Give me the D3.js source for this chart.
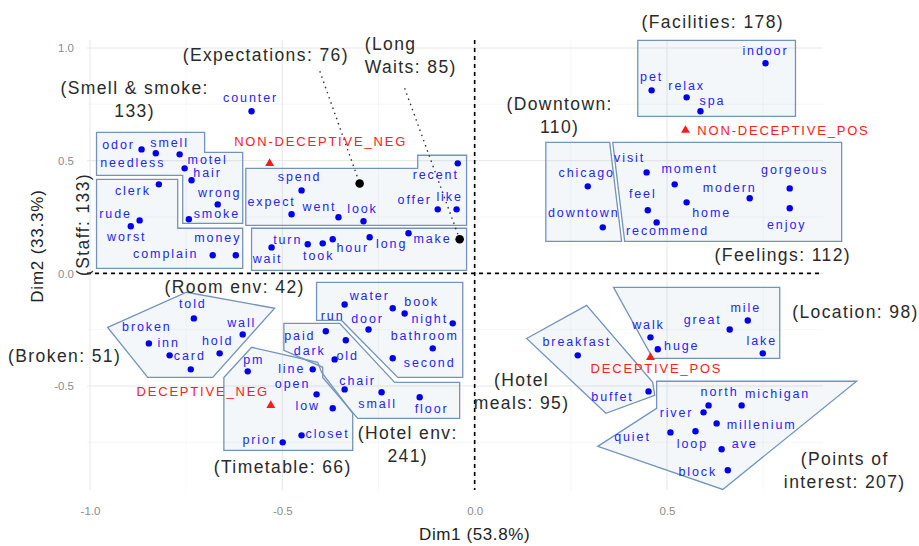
<!DOCTYPE html>
<html lang="en">
<head>
<meta charset="UTF-8">
<title>Word clusters - CA map</title>
<script src="https://d3js.org/d3.v7.min.js"></script>
<style>
  body { margin: 0; background: #fff; }
  svg { display: block; font-family: "Liberation Sans", Arial, sans-serif; }
</style>
</head>
<body>
<svg id="chart" width="919" height="546"></svg>
<script>
// word coordinates on the first two dimensions
const words = ["odor","needless","smell","motel","hair","wrong","smoke",
  "clerk","rude","worst","money","complain","counter",
  "spend","expect","went","look","recent","offer","like",
  "wait","turn","took","hour","long","make",
  "told","broken","inn","card","hold","wall",
  "pm","line","open","low","prior","closet",
  "run","water","book","door","night","bathroom","second","paid","dark","old","chair","small","floor",
  "chicago","downtown",
  "visit","moment","feel","recommend","home","modern","gorgeous","enjoy",
  "indoor","pet","relax","spa",
  "mile","great","walk","huge","lake",
  "breakfast","buffet",
  "north","michigan","river","millenium","quiet","loop","ave","block"];
const dim1 = [-0.866,-0.829,-0.767,-0.754,-0.736,-0.668,-0.743,
  -0.821,-0.871,-0.894,-0.621,-0.681,-0.580,
  -0.450,-0.476,-0.354,-0.289,-0.044,-0.096,-0.047,
  -0.528,-0.434,-0.395,-0.369,-0.273,-0.172,
  -0.730,-0.847,-0.793,-0.738,-0.663,-0.603,
  -0.590,-0.421,-0.411,-0.369,-0.499,-0.450,
  -0.338,-0.213,-0.182,-0.276,-0.057,-0.109,-0.213,-0.387,-0.335,-0.364,-0.338,-0.242,-0.143,
  0.294,0.333,
  0.447,0.520,0.450,0.473,0.551,0.715,0.819,0.819,
  0.756,0.460,0.551,0.587,
  0.710,0.663,0.457,0.476,0.749,
  0.268,0.452,
  0.608,0.694,0.595,0.629,0.509,0.574,0.642,0.658];
const dim2 = [0.550,0.533,0.528,0.466,0.413,0.306,0.240,
  0.395,0.235,0.209,0.080,0.080,0.719,
  0.368,0.262,0.249,0.231,0.488,0.284,0.284,
  0.115,0.129,0.133,0.151,0.160,0.178,
  -0.200,-0.311,-0.364,-0.426,-0.355,-0.271,
  -0.435,-0.426,-0.537,-0.599,-0.750,-0.719,
  -0.138,-0.155,-0.178,-0.249,-0.222,-0.333,-0.377,-0.257,-0.297,-0.382,-0.515,-0.528,-0.550,
  0.386,0.204,
  0.448,0.395,0.280,0.226,0.315,0.333,0.377,0.289,
  0.932,0.812,0.781,0.719,
  -0.209,-0.249,-0.284,-0.337,-0.355,
  -0.364,-0.524,
  -0.586,-0.586,-0.617,-0.666,-0.706,-0.701,-0.781,-0.874];

// review classes (red triangles)
const classes = ["NON-DECEPTIVE_NEG","NON-DECEPTIVE_POS","DECEPTIVE_NEG","DECEPTIVE_POS"];
const classDim1 = [-0.533, 0.548, -0.530, 0.457];
const classDim2 = [0.488, 0.635, -0.586, -0.373];

// clusters drawn as a single point (black)
const centroidNames = ["Expectations","Long Waits"];
const centroidDim1 = [-0.299, -0.039];
const centroidDim2 = [0.399, 0.151];

// cluster names, sizes and outlines
const clusterNames = ["Smell & smoke","Staff","Expectations","Long Waits","Room env","Broken",
  "Timetable","Hotel env","Downtown","Feelings","Facilities","Location","Hotel meals","Points of interest"];
const clusterSizes = [133,133,76,85,42,51,66,241,110,112,178,98,95,207];
const clusterHulls = [
  [[[-0.983,0.626],[-0.702,0.626],[-0.702,0.537],[-0.603,0.537],[-0.603,0.222],[-0.759,0.222],[-0.759,0.435],[-0.983,0.435]]],
  [[[-0.983,0.417],[-0.772,0.417],[-0.772,0.200],[-0.603,0.200],[-0.603,0.022],[-0.983,0.022]]],
  [[[-0.595,0.466],[-0.148,0.466],[-0.148,0.524],[-0.021,0.524],[-0.021,0.213],[-0.595,0.213]]],
  [[[-0.580,0.200],[-0.021,0.200],[-0.021,0.013],[-0.580,0.013]]],
  [[[-0.954,-0.240],[-0.749,-0.084],[-0.520,-0.155],[-0.681,-0.462],[-0.850,-0.462]]],
  [],
  [[[-0.652,-0.462],[-0.580,-0.328],[-0.408,-0.395],[-0.398,-0.439],[-0.317,-0.621],[-0.317,-0.786],[-0.652,-0.786]]],
  [[[-0.411,-0.040],[-0.031,-0.040],[-0.031,-0.462],[-0.200,-0.462],[-0.346,-0.209],[-0.411,-0.209]],
   [[-0.496,-0.222],[-0.351,-0.222],[-0.208,-0.484],[-0.039,-0.484],[-0.039,-0.644],[-0.304,-0.644],[-0.395,-0.462],[-0.395,-0.417],[-0.496,-0.342]]],
  [[[0.185,0.581],[0.351,0.581],[0.382,0.142],[0.185,0.142]]],
  [[[0.359,0.581],[0.954,0.581],[0.954,0.142],[0.390,0.142]]],
  [[[0.424,1.034],[0.834,1.034],[0.834,0.697],[0.424,0.697]]],
  [[[0.361,-0.062],[0.793,-0.062],[0.793,-0.377],[0.463,-0.377]]],
  [[[0.135,-0.289],[0.291,-0.142],[0.463,-0.484],[0.468,-0.541],[0.341,-0.621]]],
  [[[0.473,-0.479],[0.993,-0.479],[0.645,-0.959],[0.320,-0.768],[0.473,-0.599]]]
];

// ---- layout (pixel offsets, label placement) ----
const labelNudge = {
  odor:[-23,-5], needless:[-23,9], smell:[-10,-12], motel:[23,-9], hair:[16,-8], wrong:[2,-12], smoke:[28,-6],
  clerk:[-26,6], rude:[-24,-7], worst:[-4,10], money:[-18,-18], complain:[-47,-2], counter:[-1,-14],
  spend:[-2,-14], expect:[-20,-13], went:[-19,-11], look:[-1,-13], recent:[-22,11], offer:[-23,-10], like:[-7,-13],
  wait:[-4,11], turn:[-20,-5], took:[-4,12], hour:[20,8], long:[22,6], make:[24,5],
  told:[-1,-15], broken:[-2,-17], inn:[-1,-13], card:[-1,-14], hold:[-2,-13], wall:[-1,-12],
  pm:[6,-12], line:[-21,-1], open:[-24,-11], low:[-25,-3], prior:[-23,-3], closet:[26,-2],
  run:[-12,11], water:[-23,-13], book:[17,-12], door:[-1,-11], night:[-23,-5], bathroom:[-8,-13], second:[37,4],
  paid:[-26,4], dark:[-36,10], old:[13,-4], chair:[13,-9], small:[-4,11], floor:[12,11],
  chicago:[-1,-14], downtown:[-19,-15],
  visit:[-17,-15], moment:[15,-16], feel:[-5,-17], recommend:[11,8], home:[25,10], modern:[-20,-11], gorgeous:[5,-19], enjoy:[-3,16],
  indoor:[0,-13], pet:[0,-14], relax:[0,-12], spa:[12,-11],
  mile:[-2,-13], great:[-27,-10], walk:[-2,-13], huge:[24,-4], lake:[-1,-13],
  breakfast:[-1,-14], buffet:[-36,5],
  north:[11,-14], michigan:[36,-12], river:[-27,0], millenium:[45,1], quiet:[-38,4], loop:[-3,12], ave:[23,-6], block:[-30,1]
};
const classNudge = [[51,-22],[98,0],[-68,-14],[6,11]];
// cluster title placement: [x, y] in plot units, line breaks, anchor, rotation
const clusterTitle = {
  "Smell & smoke": {pos:[-0.884,0.772], lines:["(Smell & smoke:","133)"]},
  "Staff": {pos:[-1.019,0.217], lines:["(Staff: 133)"], rotate:-90},
  "Expectations": {pos:[-0.543,0.968], lines:["(Expectations: 76)"], leader:[54,16]},
  "Long Waits": {pos:[-0.286,0.968], lines:["(Long","Waits: 85)"], anchor:"start", leader:[40,33]},
  "Room env": {pos:[-0.624,-0.062], lines:["(Room env: 42)"]},
  "Broken": {pos:[-1.066,-0.368], lines:["(Broken: 51)"]},
  "Timetable": {pos:[-0.499,-0.857], lines:["(Timetable: 66)"]},
  "Hotel env": {pos:[-0.174,-0.759], lines:["(Hotel env:","241)"]},
  "Downtown": {pos:[0.221,0.701], lines:["(Downtown:","110)"]},
  "Feelings": {pos:[0.801,0.084], lines:["(Feelings: 112)"]},
  "Facilities": {pos:[0.619,1.114], lines:["(Facilities: 178)"]},
  "Location": {pos:[0.990,-0.173], lines:["(Location: 98)"]},
  "Hotel meals": {pos:[0.122,-0.524], lines:["(Hotel","meals: 95)"]},
  "Points of interest": {pos:[0.962,-0.874], lines:["(Points of","interest: 207)"]}
};

const xTicks = [-1.0, -0.5, 0.0, 0.5];
const yTicks = [-0.5, 0.0, 0.5, 1.0];
const xMinor = [-0.75, -0.25, 0.25, 0.75];
const yMinor = [-0.75, -0.25, 0.25, 0.75];

const svg = d3.select("#chart");
const panel = {left: 87, right: 823, top: 40, bottom: 490};

const x = d3.scaleLinear().domain([-1, 0.5]).range([90, 667]);
const y = d3.scaleLinear().domain([1, -0.5]).range([48, 386]);
const fmt = d => d3.format(".1f")(d).replace("\u2212", "-");

// grid
const grid = svg.append("g");
grid.selectAll(".vminor").data(xMinor).join("line")
  .attr("x1", d => x(d)).attr("x2", d => x(d))
  .attr("y1", panel.top).attr("y2", panel.bottom)
  .attr("stroke", "#f2f2f2").attr("stroke-width", 0.6);
grid.selectAll(".hminor").data(yMinor).join("line")
  .attr("y1", d => y(d)).attr("y2", d => y(d))
  .attr("x1", panel.left).attr("x2", panel.right)
  .attr("stroke", "#f2f2f2").attr("stroke-width", 0.6);
grid.selectAll(".vmajor").data(xTicks).join("line")
  .attr("x1", d => x(d)).attr("x2", d => x(d))
  .attr("y1", panel.top).attr("y2", panel.bottom)
  .attr("stroke", "#e6e6e6").attr("stroke-width", 1);
grid.selectAll(".hmajor").data(yTicks).join("line")
  .attr("y1", d => y(d)).attr("y2", d => y(d))
  .attr("x1", panel.left).attr("x2", panel.right)
  .attr("stroke", "#e6e6e6").attr("stroke-width", 1);

// axes
const xAxis = svg.append("g").attr("transform", `translate(0,${panel.bottom + 14})`)
  .call(d3.axisBottom(x).tickValues(xTicks).tickFormat(fmt).tickSize(0));
const yAxis = svg.append("g").attr("transform", `translate(${panel.left - 10},0)`)
  .call(d3.axisLeft(y).tickValues(yTicks).tickFormat(fmt).tickSize(0));
[xAxis, yAxis].forEach(a => {
  a.select(".domain").remove();
  a.selectAll("text").attr("fill", "#8c8c8c").attr("font-size", 11.5)
    .attr("font-family", "Liberation Sans, Arial, sans-serif");
});
svg.append("text").attr("x", x(0)).attr("y", 540).attr("text-anchor", "middle")
  .attr("font-size", 17).attr("letter-spacing", 0.6).attr("fill", "#222").text("Dim1 (53.8%)");
svg.append("text").attr("transform", "translate(43,246) rotate(-90)").attr("text-anchor", "middle")
  .attr("font-size", 17).attr("letter-spacing", 0.8).attr("fill", "#222").text("Dim2 (33.3%)");

// cluster outlines
const line = d3.line().x(d => x(d[0])).y(d => y(d[1]));
clusterHulls.forEach(parts => parts.forEach(p => {
  svg.append("path").attr("d", line(p) + "Z")
    .attr("fill", "rgba(176,196,222,0.14)")
    .attr("stroke", "#7393ba").attr("stroke-width", 1.3);
}));

// reference lines
svg.append("line").attr("x1", x(0)).attr("x2", x(0)).attr("y1", panel.top).attr("y2", panel.bottom)
  .attr("stroke", "#000").attr("stroke-width", 1.6).attr("stroke-dasharray", "4,4");
svg.append("line").attr("x1", panel.left).attr("x2", panel.right).attr("y1", y(0)).attr("y2", y(0))
  .attr("stroke", "#000").attr("stroke-width", 1.6).attr("stroke-dasharray", "4,4");

// cluster titles
clusterNames.forEach((name, i) => {
  const t = clusterTitle[name];
  const px = x(t.pos[0]), py = y(t.pos[1]);
  const lh = 23;
  const g = svg.append("g").attr("transform", `translate(${px},${py})` + (t.rotate ? ` rotate(${t.rotate})` : ""));
  t.lines.forEach((ln, k) => {
    g.append("text")
      .attr("x", 0).attr("y", (k - (t.lines.length - 1) / 2) * lh)
      .attr("dy", "0.35em")
      .attr("text-anchor", t.anchor || "middle")
      .attr("font-size", 17.5).attr("letter-spacing", 1.4)
      .attr("fill", "#2a2a2a").text(ln);
  });
  const c = centroidNames.indexOf(name);
  if (c >= 0 && t.leader) {
    svg.append("line")
      .attr("x1", px + t.leader[0]).attr("y1", py + t.leader[1])
      .attr("x2", x(centroidDim1[c])).attr("y2", y(centroidDim2[c]))
      .attr("stroke", "#333").attr("stroke-width", 1.4).attr("stroke-dasharray", "1.5,4");
  }
});

// words
const wordData = words.map((w, i) => ({w, d1: dim1[i], d2: dim2[i]}));
svg.append("g").selectAll("circle").data(wordData).join("circle")
  .attr("cx", d => x(d.d1)).attr("cy", d => y(d.d2)).attr("r", 3.2).attr("fill", "#0000ee");
svg.append("g").selectAll("text").data(wordData).join("text")
  .attr("x", d => x(d.d1) + labelNudge[d.w][0])
  .attr("y", d => y(d.d2) + labelNudge[d.w][1])
  .attr("dy", "0.35em").attr("text-anchor", "middle")
  .attr("font-size", 12.5).attr("letter-spacing", 1.9)
  .attr("fill", "#2424ff").text(d => d.w);

// centroid points
centroidNames.forEach((n, i) => {
  svg.append("circle").attr("cx", x(centroidDim1[i])).attr("cy", y(centroidDim2[i]))
    .attr("r", 4.3).attr("fill", "#000");
});

// class triangles
const tri = d3.symbol().type(d3.symbolTriangle).size(34);
classes.forEach((c, i) => {
  const cx = x(classDim1[i]), cy = y(classDim2[i]);
  svg.append("path").attr("d", tri()).attr("transform", `translate(${cx},${cy})`).attr("fill", "#ff1a1a");
  svg.append("text").attr("x", cx + classNudge[i][0]).attr("y", cy + classNudge[i][1])
    .attr("dy", "0.35em").attr("text-anchor", "middle")
    .attr("font-size", 13).attr("letter-spacing", 1.8)
    .attr("fill", "#ff2020").text(c);
});
</script>
</body>
</html>
